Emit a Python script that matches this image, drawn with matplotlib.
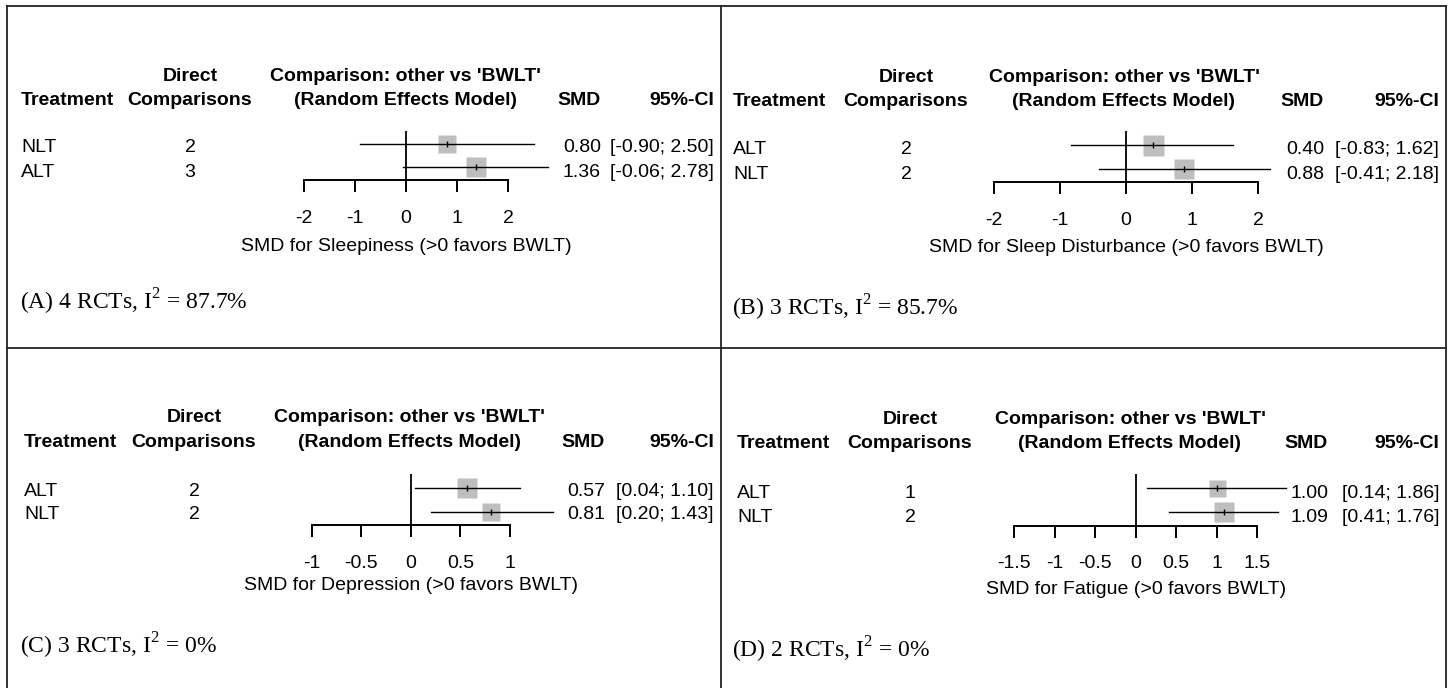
import matplotlib
matplotlib.use('Agg')
import matplotlib.pyplot as plt
from matplotlib.lines import Line2D
from matplotlib.ticker import FormatStrFormatter

plt.rcParams['font.family'] = 'Liberation Sans'
plt.rcParams['axes.unicode_minus'] = False
plt.rcParams['mathtext.fontset'] = 'custom'
plt.rcParams['mathtext.rm'] = 'Liberation Serif'

# data, one entry per panel (A, B, C, D)
panel_tags = ['A', 'B', 'C', 'D']
outcomes = ['Sleepiness', 'Sleep Disturbance', 'Depression', 'Fatigue']
n_rcts = [4, 3, 3, 2]
i_squared = [87.7, 85.7, 0, 0]
treatments = [['NLT', 'ALT'], ['ALT', 'NLT'], ['ALT', 'NLT'], ['ALT', 'NLT']]
direct_comps = [[2, 3], [2, 2], [2, 2], [1, 2]]
smd = [[0.80, 1.36], [0.40, 0.88], [0.57, 0.81], [1.00, 1.09]]
ci_low = [[-0.90, -0.06], [-0.83, -0.41], [0.04, 0.20], [0.14, 0.41]]
ci_high = [[2.50, 2.78], [1.62, 2.18], [1.10, 1.43], [1.86, 1.76]]
x_ticks = [[-2, -1, 0, 1, 2], [-2, -1, 0, 1, 2],
           [-1, -0.5, 0, 0.5, 1], [-1.5, -1, -0.5, 0, 0.5, 1, 1.5]]

# layout in pixels (figure is 1450 x 688)
W, H = 1450, 688
col_treat_x = [21, 733, 24, 737]
col_direct_x = [190, 906, 194, 910]
col_comp_x = [405, 1124, 409, 1130]
col_smd_x = [601, 1324, 605, 1328]
col_ci_x = [714, 1439, 714, 1439]
head_y = [(81, 105), (82, 106), (422.5, 447), (423.5, 448.5)]
row_y = [(152.5, 176.5), (154.5, 179), (496, 519), (497.5, 522)]
axis_y = [180, 182.3, 525, 525.7]
axis_x = [(304, 508.3), (994, 1258.3), (311.7, 510), (1014, 1257.3)]
row_gap = [23, 24, 24, 24.4]
xlabel_y = [251, 252, 590, 594]
caption_xy = [(20.5, 310), (732, 316), (19.5, 653.5), (732, 658)]
box_px = [(17.5, 20), (21, 19.3), (20.5, 18.5), (17, 20.5)]


def fx(x):
    return x / W


def fy(y):
    return 1 - y / H


fig = plt.figure(figsize=(W / 100, H / 100), dpi=100)
fs = 14

for p in range(4):
    bold = dict(fontsize=fs, fontweight='bold', va='baseline')
    reg = dict(fontsize=fs, va='baseline')
    h1, h2 = head_y[p]
    fig.text(fx(col_treat_x[p]), fy(h2), 'Treatment', ha='left', **bold)
    fig.text(fx(col_direct_x[p]), fy(h1), 'Direct', ha='center', **bold)
    fig.text(fx(col_direct_x[p]), fy(h2), 'Comparisons', ha='center', **bold)
    fig.text(fx(col_comp_x[p]), fy(h1), "Comparison: other vs 'BWLT'", ha='center', **bold)
    fig.text(fx(col_comp_x[p]), fy(h2), '(Random Effects Model)', ha='center', **bold)
    fig.text(fx(col_smd_x[p]), fy(h2), 'SMD', ha='right', **bold)
    fig.text(fx(col_ci_x[p]), fy(h2), '95%-CI', ha='right', **bold)

    for i in range(2):
        y = fy(row_y[p][i])
        fig.text(fx(col_treat_x[p]), y, treatments[p][i], ha='left', **reg)
        fig.text(fx(col_direct_x[p]), y, str(direct_comps[p][i]), ha='center', **reg)
        fig.text(fx(col_smd_x[p]), y, '%.2f' % smd[p][i], ha='right', **reg)
        fig.text(fx(col_ci_x[p]), y, '[%.2f; %.2f]' % (ci_low[p][i], ci_high[p][i]),
                 ha='right', **reg)

    # forest part
    lim = max(abs(t) for t in x_ticks[p])
    x0, x1 = axis_x[p]
    hgt = row_gap[p] * 2.13
    ax = fig.add_axes([fx(x0), fy(axis_y[p]), (x1 - x0) / W, hgt / H])
    ax.patch.set_visible(False)
    ax.set_xlim(-lim, lim)
    ax.set_ylim(1.55, -0.58)
    for s in ['top', 'right', 'left']:
        ax.spines[s].set_visible(False)
    ax.spines['bottom'].set_linewidth(1.4)
    ax.set_yticks([])
    ax.set_xticks(x_ticks[p])
    ax.xaxis.set_major_formatter(FormatStrFormatter('%g'))
    ax.tick_params(axis='x', direction='out', length=8.3, width=1.4, pad=13,
                   labelsize=fs)
    ax.axvline(0, color='black', lw=1.3)
    for i in range(2):
        ax.plot(smd[p][i], i, marker='s', ms=box_px[p][i] * 0.72, color='#BEBEBE',
                mec='none', zorder=2, clip_on=False)
        ax.plot([ci_low[p][i], ci_high[p][i]], [i, i], color='black', lw=1.0,
                zorder=3, clip_on=False)
        ax.plot(smd[p][i], i, marker='|', ms=4.5, mew=1.0, color='black',
                zorder=4, clip_on=False)

    fig.text(fx((x0 + x1) / 2), fy(xlabel_y[p]),
             'SMD for %s (>0 favors BWLT)' % outcomes[p],
             ha='center', va='baseline', fontsize=fs)

    cx, cy = caption_xy[p]
    fig.text(fx(cx), fy(cy),
             '(%s) %d RCTs, $\\mathrm{I}^{2}$ = %g%%' % (panel_tags[p], n_rcts[p], i_squared[p]),
             ha='left', va='baseline', fontsize=17, family='Liberation Serif')

# panel frame
frame = dict(color='#222222', lw=1.3)
fig.add_artist(Line2D([fx(7), fx(7)], [fy(6), fy(688)], **frame))
fig.add_artist(Line2D([fx(1446), fx(1446)], [fy(6), fy(688)], **frame))
fig.add_artist(Line2D([fx(720.5), fx(720.5)], [fy(6), fy(688)], **frame))
fig.add_artist(Line2D([fx(7), fx(1446)], [fy(6), fy(6)], **frame))
fig.add_artist(Line2D([fx(7), fx(1446)], [fy(348), fy(348)], **frame))

fig.savefig('out.png', dpi=100)
